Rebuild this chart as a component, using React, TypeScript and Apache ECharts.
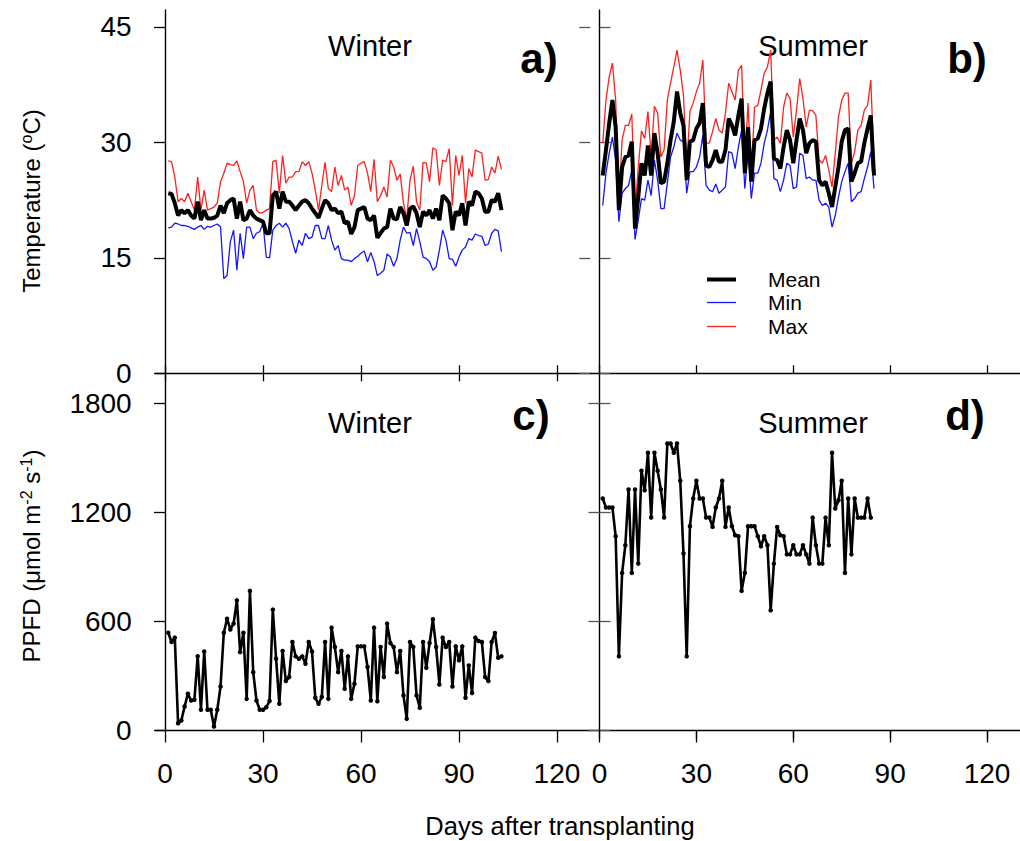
import React, { useEffect, useRef } from "react";
import * as echarts from "echarts";

// ---------- data ----------
const winterMean = [
  23.4, 23.3, 22.1, 20.5, 21.2, 20.8, 21.2, 20.5, 20.1, 22.3,
  19.9, 21.2, 20.1, 20.1, 20.2, 20.5, 21.8, 20.8, 22.1, 22.5,
  22.7, 20.1, 22.3, 19.9, 20.1, 21.2, 20.5, 20.1, 19.9, 19.7,
  18.2, 18.2, 23.1, 23.6, 21.4, 23.6, 22.3, 22.3, 21.8, 21.2,
  21.8, 22.3, 22.5, 22.1, 21.4, 20.8, 20.2, 21.4, 22.5, 22.1,
  21.2, 21.4, 20.8, 21.0, 19.5, 19.7, 18.1, 19.0, 21.2, 21.4,
  21.6, 20.1, 19.9, 20.5, 17.6, 18.2, 18.8, 19.0, 21.4, 20.1,
  20.0, 21.6, 20.8, 19.2, 21.4, 21.7, 20.8, 19.0, 21.0, 20.5,
  21.2, 20.1, 21.4, 19.9, 23.1, 22.7, 22.1, 18.6, 21.0, 20.5,
  22.1, 19.2, 22.3, 21.8, 23.6, 23.4, 22.7, 21.0, 21.0, 22.5,
  22.3, 23.4, 21.2,
];
const winterMin = [
  18.9, 19.0, 19.5, 19.4, 19.2, 19.2, 19.1, 18.9, 18.7, 19.0,
  19.2, 18.7, 19.1, 19.0, 19.2, 19.4, 19.0, 12.3, 12.7, 17.1,
  18.6, 13.4, 18.2, 14.9, 19.0, 19.0, 17.5, 18.2, 18.4, 19.5,
  15.1, 15.0, 18.6, 19.2, 19.5, 19.0, 19.5, 18.8, 17.1, 15.6,
  17.3, 16.6, 18.2, 17.5, 17.7, 19.2, 19.2, 17.5, 17.5, 19.2,
  17.3, 16.0, 16.6, 14.9, 14.7, 14.7, 14.5, 14.9, 15.2, 15.6,
  15.9, 14.5, 15.7, 14.5, 12.7, 13.0, 13.4, 15.5, 15.1, 13.9,
  14.9, 17.3, 19.0, 18.2, 18.3, 16.6, 18.8, 17.1, 15.1, 14.9,
  14.5, 13.4, 13.8, 16.0, 18.6, 17.3, 14.9, 14.8, 13.9, 15.1,
  16.0, 16.4, 17.5, 17.3, 18.1, 17.9, 17.8, 16.6, 16.8, 18.2,
  18.7, 18.5, 15.8,
];
const winterMax = [
  27.6, 27.5, 25.5, 22.3, 22.7, 22.3, 23.4, 22.3, 21.2, 25.5,
  21.2, 23.8, 21.2, 21.4, 21.6, 22.1, 24.9, 26.0, 27.3, 27.1,
  27.0, 27.6, 26.2, 24.9, 22.1, 23.8, 24.4, 21.2, 20.8, 20.9,
  21.2, 21.4, 27.5, 27.7, 23.4, 28.3, 24.7, 25.5, 25.5, 26.2,
  26.2, 27.5, 27.0, 27.5, 26.0, 23.8, 21.2, 24.4, 27.4, 24.0,
  23.6, 26.8, 24.4, 25.7, 23.8, 24.2, 21.8, 23.1, 27.0, 27.3,
  27.5, 26.0, 23.6, 27.8, 22.3, 23.1, 24.2, 22.9, 27.7, 26.8,
  25.1, 25.9, 22.1, 20.1, 25.1, 26.9, 22.3, 21.2, 27.4, 27.3,
  24.9, 29.3, 29.0, 24.4, 27.7, 27.5, 29.2, 21.8, 28.3, 25.7,
  28.3, 22.1, 26.6, 25.5, 29.0, 28.8, 28.6, 25.1, 25.2, 26.8,
  26.0, 28.2, 26.5,
];
const summerMean = [
  25.7, 29.0, 32.5, 35.5, 32.0, 21.2, 26.8, 28.1, 28.3, 30.1,
  18.8, 22.9, 27.3, 25.7, 29.6, 25.7, 31.2, 28.6, 24.7, 24.9,
  27.3, 30.3, 32.7, 36.6, 33.8, 32.2, 25.1, 30.1, 30.3, 31.8,
  32.5, 35.1, 27.0, 26.8, 27.7, 29.0, 27.5, 27.5, 29.0, 33.1,
  32.2, 30.9, 33.5, 35.7, 26.0, 32.0, 24.9, 30.3, 30.5, 31.8,
  34.4, 36.4, 37.9, 27.9, 27.7, 26.6, 29.4, 31.6, 30.3, 27.3,
  30.3, 33.1, 31.6, 28.6, 29.9, 30.3, 30.1, 25.1, 24.4, 24.9,
  23.4, 21.6, 24.2, 26.8, 30.1, 31.6, 31.8, 24.9, 26.0, 27.3,
  27.5, 29.9, 31.8, 33.5, 25.7,
];
const summerMin = [
  21.8, 26.0, 28.6, 30.7, 27.7, 19.7, 23.4, 24.0, 24.4, 26.4,
  17.4, 19.9, 22.7, 22.5, 25.1, 23.1, 27.7, 25.1, 21.4, 21.4,
  24.7, 28.1, 29.4, 31.2, 30.3, 30.1, 23.4, 26.2, 26.2, 26.8,
  28.1, 30.9, 24.4, 23.8, 23.6, 24.6, 23.4, 23.8, 24.2, 28.8,
  28.6, 26.6, 29.4, 31.6, 24.0, 29.0, 22.7, 26.0, 26.0, 27.3,
  29.9, 31.6, 34.0, 25.3, 25.1, 23.6, 25.1, 27.3, 27.0, 24.0,
  24.2, 28.6, 28.3, 25.3, 25.5, 25.1, 25.1, 22.5, 21.8, 22.1,
  21.6, 19.0, 20.5, 22.9, 24.9, 26.2, 27.3, 22.3, 22.7, 23.4,
  23.6, 25.3, 26.8, 28.8, 24.0,
];
const summerMax = [
  29.9, 35.5, 38.5, 40.3, 35.5, 22.5, 30.3, 32.2, 32.2, 33.7,
  20.8, 26.8, 31.5, 30.5, 34.0, 28.1, 34.7, 33.8, 28.1, 29.0,
  35.5, 37.7, 39.8, 42.0, 39.4, 36.1, 26.6, 34.0, 35.1, 36.6,
  37.7, 40.7, 29.9, 29.9, 31.4, 33.1, 31.6, 31.2, 33.8, 37.7,
  36.6, 35.5, 39.4, 40.0, 27.7, 35.1, 25.6, 34.6, 34.8, 36.8,
  39.0, 39.8, 42.0, 30.3, 30.7, 29.9, 34.6, 36.4, 35.7, 30.7,
  34.2, 38.3, 35.7, 32.0, 34.2, 34.1, 33.5, 27.7, 27.3, 28.3,
  26.4, 24.2, 28.6, 33.3, 35.5, 36.4, 36.4, 27.3, 28.8, 31.6,
  32.2, 34.2, 34.8, 38.1, 27.3,
];
const winterPPFD = [
  538, 487, 511, 40, 55, 132, 202, 165, 169, 409,
  114, 435, 114, 114, 22, 114, 242, 538, 615, 556,
  588, 716, 431, 538, 174, 768, 321, 165, 114, 114,
  128, 162, 665, 395, 147, 437, 272, 294, 487, 408,
  395, 408, 367, 487, 435, 180, 147, 184, 487, 174,
  566, 459, 321, 437, 230, 408, 174, 257, 463, 463,
  463, 349, 165, 566, 161, 459, 294, 588, 481, 459,
  321, 437, 193, 64, 487, 459, 193, 125, 487, 345,
  481, 612, 459, 253, 511, 459, 487, 242, 463, 386,
  463, 180, 358, 206, 511, 492, 487, 294, 272, 487,
  536, 400, 408,
];
const summerPPFD = [
  1276, 1227, 1227, 1227, 1069, 408, 867, 1019, 1326, 867,
  1326, 918, 1429, 1322, 1528, 1172, 1528, 1429, 1326, 1172,
  1579, 1579, 1528, 1579, 1374, 974, 408, 1124, 1276, 1374,
  1276, 1276, 1172, 1172, 1120, 1227, 1276, 1374, 1120, 1227,
  1124, 1074, 1069, 768, 867, 1124, 1124, 1124, 1069, 1013,
  1069, 1019, 661, 918, 1120, 1074, 1069, 969, 969, 1019,
  969, 969, 1019, 969, 918, 1171, 1019, 918, 918, 1171,
  1019, 1528, 1221, 1267, 1374, 867, 1276, 969, 1276, 1171,
  1171, 1171, 1276, 1171,
];
const dayTicks = [0, 30, 60, 90, 120];
const tempTicks = [0, 15, 30, 45];
const ppfdTicks = [0, 600, 1200, 1800];
const seriesNames = ["Mean", "Min", "Max"];
const seriesColors = ["#000000", "#1515ff", "#ff2020"];
const seriesWidths = [4, 1.3, 1.3];

// ---------- helpers ----------
const FONT = "'Liberation Sans', Arial, Helvetica, sans-serif";
const X_MIN = -2.85;
const X_MAX = 130.2;
const pairs = (arr: number[]) => arr.map((v, i) => [i + 1, v]);
const plain = (v: number) => String(v);

const xAxisBase = (gridIndex: number) => ({
  type: "value",
  gridIndex,
  min: X_MIN,
  max: X_MAX,
  splitLine: { show: false },
});

function buildOption() {
  const grids = [
    { left: 155.7, top: 10, width: 434.6, height: 363.3 },
    { left: 590.3, top: 10, width: 434.6, height: 363.3 },
    { left: 155.7, top: 373.3, width: 434.6, height: 357.2 },
    { left: 590.3, top: 373.3, width: 434.6, height: 357.2 },
  ];

  const xAxis: any[] = [];
  [0, 1].forEach((g) =>
    xAxis.push({
      ...xAxisBase(g),
      position: "bottom",
      axisLine: { show: true, lineStyle: { color: "#000", width: 1.4 } },
      axisTick: { show: true, inside: true, length: 8, customValues: dayTicks, lineStyle: { color: "#000", width: 1.3 } },
      axisLabel: { show: false },
    })
  );
  [2, 3].forEach((g) =>
    xAxis.push({
      ...xAxisBase(g),
      position: "bottom",
      axisLine: { show: true, lineStyle: { color: "#000", width: 1.4 } },
      axisTick: { show: true, inside: false, length: 12, customValues: dayTicks, lineStyle: { color: "#000", width: 1.3 } },
      axisLabel: { show: true, customValues: dayTicks, formatter: plain, margin: 29, fontSize: 28, color: "#000", fontFamily: FONT },
    })
  );
  [2, 3].forEach((g) =>
    xAxis.push({
      ...xAxisBase(g),
      position: "top",
      axisLine: { show: false },
      axisTick: { show: true, inside: true, length: 8, customValues: dayTicks, lineStyle: { color: "#000", width: 1.3 } },
      axisLabel: { show: false },
    })
  );

  const yAxis: any[] = [];
  yAxis.push({
    type: "value", gridIndex: 0, min: 0, max: 47.2, position: "left",
    splitLine: { show: false },
    axisLine: { show: true, lineStyle: { color: "#000", width: 1.4 } },
    axisTick: { show: true, inside: false, length: 11, customValues: tempTicks, lineStyle: { color: "#000", width: 1.3 } },
    axisLabel: { show: true, customValues: tempTicks, formatter: plain, margin: 24, fontSize: 28, color: "#000", fontFamily: FONT },
  });
  yAxis.push({
    type: "value", gridIndex: 1, min: 0, max: 47.2, position: "left",
    splitLine: { show: false },
    axisLine: { show: true, lineStyle: { color: "#000", width: 1.4 } },
    axisTick: { show: true, inside: true, length: 11, customValues: tempTicks, lineStyle: { color: "#555", width: 1.3 } },
    axisLabel: { show: false },
  });
  yAxis.push({
    type: "value", gridIndex: 1, min: 0, max: 47.2, position: "left",
    splitLine: { show: false },
    axisLine: { show: false },
    axisTick: { show: true, inside: false, length: 11, customValues: tempTicks, lineStyle: { color: "#555", width: 1.3 } },
    axisLabel: { show: false },
  });
  yAxis.push({
    type: "value", gridIndex: 2, min: 0, max: 1965, position: "left",
    splitLine: { show: false },
    axisLine: { show: true, lineStyle: { color: "#000", width: 1.4 } },
    axisTick: { show: true, inside: false, length: 11, customValues: ppfdTicks, lineStyle: { color: "#000", width: 1.3 } },
    axisLabel: { show: true, customValues: ppfdTicks, formatter: plain, margin: 24, fontSize: 28, color: "#000", fontFamily: FONT },
  });
  yAxis.push({
    type: "value", gridIndex: 3, min: 0, max: 1965, position: "left",
    splitLine: { show: false },
    axisLine: { show: true, lineStyle: { color: "#000", width: 1.4 } },
    axisTick: { show: true, inside: true, length: 11, customValues: ppfdTicks, lineStyle: { color: "#555", width: 1.3 } },
    axisLabel: { show: false },
  });
  yAxis.push({
    type: "value", gridIndex: 3, min: 0, max: 1965, position: "left",
    splitLine: { show: false },
    axisLine: { show: false },
    axisTick: { show: true, inside: false, length: 11, customValues: ppfdTicks, lineStyle: { color: "#555", width: 1.3 } },
    axisLabel: { show: false },
  });

  const tempLine = (k: number, data: number[], xi: number, yi: number) => ({
    type: "line",
    name: seriesNames[k],
    xAxisIndex: xi,
    yAxisIndex: yi,
    data: pairs(data),
    symbol: "none",
    showSymbol: false,
    lineStyle: { color: seriesColors[k], width: seriesWidths[k] },
    itemStyle: { color: seriesColors[k] },
    z: k === 0 ? 4 : 3,
  });
  const ppfdLine = (name: string, data: number[], xi: number, yi: number) => ({
    type: "line",
    name,
    xAxisIndex: xi,
    yAxisIndex: yi,
    data: pairs(data),
    symbol: "circle",
    symbolSize: 4.5,
    showSymbol: true,
    lineStyle: { color: "#000", width: 2.6 },
    itemStyle: { color: "#000" },
  });

  const series = [
    tempLine(2, winterMax, 0, 0),
    tempLine(1, winterMin, 0, 0),
    tempLine(0, winterMean, 0, 0),
    tempLine(2, summerMax, 1, 1),
    tempLine(1, summerMin, 1, 1),
    tempLine(0, summerMean, 1, 1),
    ppfdLine("PPFD winter", winterPPFD, 2, 3),
    ppfdLine("PPFD summer", summerPPFD, 3, 4),
  ];

  const panelText = (text: string, x: number, y: number, size: number, bold = false, align = "center") => ({
    type: "text",
    x,
    y,
    silent: true,
    style: {
      text,
      align,
      verticalAlign: "middle",
      fontSize: size,
      fontWeight: bold ? "bold" : "normal",
      fontFamily: FONT,
      fill: "#000",
    },
  });

  // legend (drawn in panel b)
  const legendRows = [279.5, 302.5, 326.5];
  const legendGraphic: any[] = [];
  seriesNames.forEach((name, k) => {
    legendGraphic.push({
      type: "line",
      silent: true,
      shape: { x1: 707, y1: legendRows[k], x2: 736, y2: legendRows[k] },
      style: { stroke: seriesColors[k], lineWidth: seriesWidths[k] },
    });
    legendGraphic.push(panelText(name, 768, legendRows[k], 21, false, "left"));
  });

  const supStyle = { fontSize: 16, fontFamily: FONT, fill: "#000", verticalAlign: "top", padding: [0, 0, 10, 0] };

  const graphic = [
    panelText("Winter", 370, 46, 29),
    panelText("Summer", 813, 46, 29),
    panelText("a)", 539, 58, 42, true),
    panelText("b)", 967, 58, 42, true),
    panelText("Winter", 370, 423, 29),
    panelText("Summer", 813, 423, 29),
    panelText("c)", 531, 415, 42, true),
    panelText("d)", 965, 415, 42, true),
    panelText("Days after transplanting", 560, 826, 25.5),
    ...legendGraphic,
    {
      type: "text",
      x: 31,
      y: 201,
      rotation: Math.PI / 2,
      silent: true,
      style: {
        text: "Temperature ({sup|o}C)",
        align: "center",
        verticalAlign: "middle",
        fontSize: 24,
        fontFamily: FONT,
        fill: "#000",
        rich: { sup: supStyle },
      },
    },
    {
      type: "text",
      x: 31,
      y: 556,
      rotation: Math.PI / 2,
      silent: true,
      style: {
        text: "PPFD (μmol m{sup|-2} s{sup|-1})",
        align: "center",
        verticalAlign: "middle",
        fontSize: 24,
        fontFamily: FONT,
        fill: "#000",
        rich: { sup: supStyle },
      },
    },
  ];

  return {
    animation: false,
    backgroundColor: "#fff",
    textStyle: { fontFamily: FONT },
    grid: grids,
    xAxis,
    yAxis,
    series,
    graphic,
  };
}

export default function App() {
  const ref = useRef<HTMLDivElement>(null);
  useEffect(() => {
    if (!ref.current) return;
    const chart = echarts.init(ref.current, undefined, { renderer: "svg" });
    chart.setOption(buildOption() as any);
    return () => chart.dispose();
  }, []);
  return (
    <div
      ref={ref}
      style={{ position: "absolute", left: 0, top: 0, width: 1020, height: 841, background: "#fff" }}
    />
  );
}
